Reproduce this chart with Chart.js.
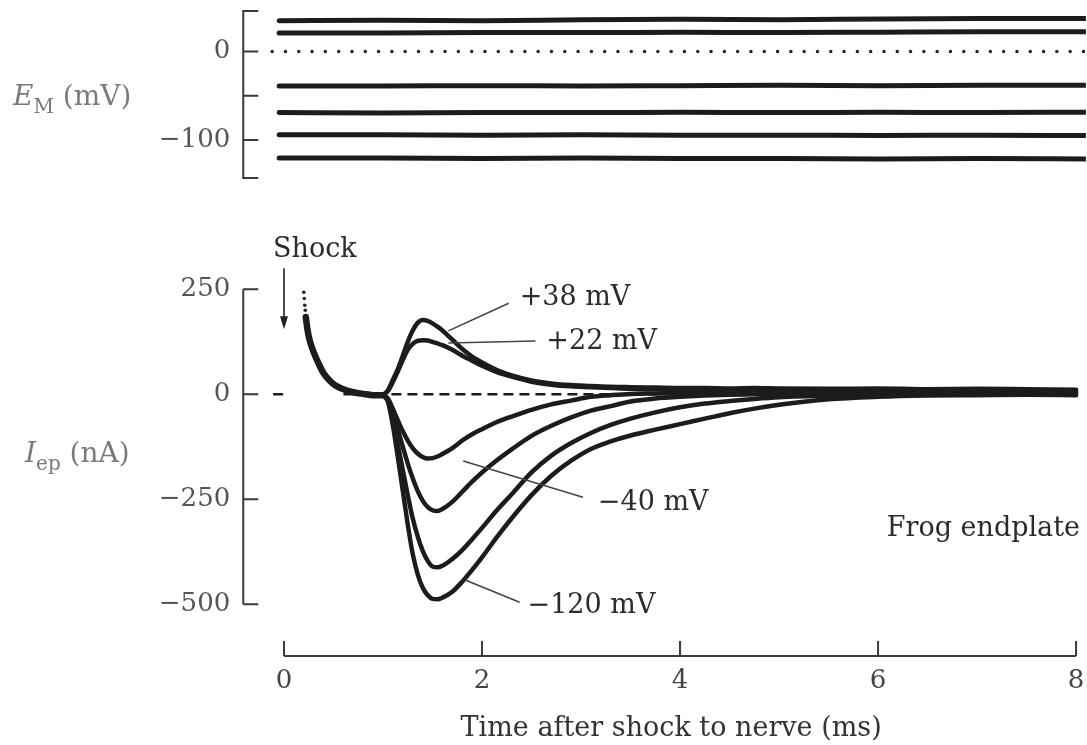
<!DOCTYPE html>
<html>
<head>
<meta charset="utf-8">
<script src="https://cdn.jsdelivr.net/npm/chart.js@4.4.0/dist/chart.umd.min.js"></script>
<style>
  html, body { margin: 0; padding: 0; background: #fff; }
  #wrap { position: relative; width: 1087px; height: 745px; }
  #wrap canvas { position: absolute; left: 0; top: 0; }
</style>
</head>
<body>
<div id="wrap">
  <canvas id="emChart" width="1087" height="745"></canvas>
  <canvas id="iepChart" width="1087" height="745"></canvas>
</div>
<script>
// Panel superior: potencial de membrana (mV) para cada registro
var emTime = [-0.05, 1, 2, 3, 4, 5, 6, 7, 8.07];
var emPlus38 = [35, 35.5, 35, 36, 36.5, 36, 37, 37.5, 37.5];
var emPlus22 = [21, 21, 21.5, 21.5, 22, 21.5, 22, 22.5, 22.5];
var emMinus40 = [-39, -39, -38.5, -39, -38.5, -38, -38.5, -38, -38];
var emMinus70 = [-69, -69.5, -69, -69, -68.5, -69, -68.5, -69, -68.5];
var emMinus95 = [-94, -94, -94.5, -94, -94.5, -94.5, -95, -94.5, -95];
var emMinus120 = [-120.5, -120.5, -121, -120.5, -121, -121, -121.5, -121, -121.5];
var emZeroTime = [-0.12, 8.07];
var emZero = [0, 0];
var emTicks = [0, -100];
var emTickMarks = [0, -50, -100];
var emBracket = [46, -143];

// Panel inferior: corriente de placa (nA)
var shockDotTime = [0.2, 0.205, 0.21, 0.215];
var shockDots = [243, 228, 212, 200];
var artifactTime = [0.22, 0.24, 0.26, 0.3, 0.35, 0.4, 0.46, 0.52, 0.6, 0.7, 0.8, 0.9, 1.0];
var artifact = [184, 150, 128, 100, 73, 50, 33, 21, 12, 5, 1, -2, -2];
var traceTime = [1.0, 1.05, 1.1, 1.15, 1.2, 1.25, 1.3, 1.35, 1.4, 1.45, 1.5, 1.55, 1.6, 1.7, 1.8, 1.9, 2.0, 2.15, 2.3, 2.5, 2.7, 2.9, 3.1, 3.3, 3.5, 3.75, 4.0, 4.25, 4.5, 4.75, 5.0, 5.5, 6.0, 6.5, 7.0, 7.5, 8.0];
var iPlus38 = [-2, 10, 35, 60, 92, 125, 152, 170, 177, 175, 169, 161, 152, 130, 108, 90, 76, 58, 45, 33, 26, 22, 20, 18, 17, 16, 15, 15, 14, 15, 14, 13, 14, 12, 13, 12, 11];
var iPlus22 = [-2, 8, 30, 55, 82, 106, 120, 127, 129, 128, 125, 121, 117, 106, 92, 80, 68, 53, 42, 30, 23, 19, 17, 15, 13, 12, 11, 12, 11, 10, 11, 10, 11, 9, 10, 9, 9];
var iMinus40 = [-2, -10, -35, -62, -88, -110, -128, -141, -149, -153, -152, -148, -142, -128, -110, -95, -83, -66, -53, -37, -24, -15, -6, -2, 1, 2, 3, 4, 3, 5, 4, 5, 6, 5, 6, 5, 6];
var iMinus70 = [-2, -12, -45, -85, -125, -165, -200, -230, -253, -268, -276, -278, -273, -256, -232, -208, -186, -157, -131, -99, -75, -55, -39, -28, -17, -10, -6, -3, -1, 0, 1, 2, 3, 4, 3, 4, 4];
var iMinus95 = [-2, -15, -60, -120, -180, -240, -295, -338, -372, -396, -410, -412, -408, -392, -371, -345, -318, -276, -238, -186, -146, -116, -92, -73, -58, -43, -31, -22, -16, -11, -7, -3, -1, 0, 1, 1, 2];
var iMinus120 = [-2, -18, -75, -150, -230, -310, -380, -428, -460, -478, -487, -488, -484, -470, -446, -418, -388, -340, -295, -240, -194, -158, -130, -112, -98, -84, -71, -58, -45, -34, -25, -12, -6, -3, -2, -1, -2];
var baseTime = [-0.11, 0.04, 0.3, 0.6, 8.0];
var baseZero = [0, 0, null, 0, 0];
var iepTicks = [250, 0, -250, -500];
var timeTicks = [0, 2, 4, 6, 8];

// Etiquetas de los registros (posiciones en unidades de los ejes)
var notas = [
  { texto: '+38 mV', x: 2.38, y: 229, desde: [2.27, 217], hasta: [1.66, 151] },
  { texto: '+22 mV', x: 2.65, y: 125, desde: [2.54, 127], hasta: [1.66, 122] },
  { texto: '\u221240 mV', x: 3.17, y: -259, desde: [3.02, -245], hasta: [1.81, -159] },
  { texto: '\u2212120 mV', x: 2.46, y: -504, desde: [2.38, -495], hasta: [1.83, -442] }
];

Chart.defaults.font.family = '"DejaVu Serif", serif';
var FUENTE = '"DejaVu Serif", serif';

function puntos(xs, ys) {
  return xs.map(function (x, i) { return { x: x, y: ys[i] }; });
}

function traza(xs, ys, ancho) {
  return {
    data: puntos(xs, ys),
    borderColor: '#1c1c1c',
    borderWidth: ancho,
    pointRadius: 0,
    tension: 0.3,
    cubicInterpolationMode: 'monotone',
    borderCapStyle: 'round',
    borderJoinStyle: 'round',
    fill: false
  };
}

function ejeX(visible) {
  return {
    type: 'linear', min: -0.25, max: 8.07,
    display: visible,
    afterBuildTicks: function (scale) { scale.ticks = timeTicks.map(function (v) { return { value: v }; }); },
    afterFit: function (scale) {
      scale.height = visible ? 89 : 0;
      scale.paddingLeft = 0;
      scale.paddingRight = 0;
    },
    grid: { display: false, drawTicks: false },
    border: { display: false },
    ticks: { padding: 10, color: '#444', font: { size: 26 }, maxRotation: 0, autoSkip: false },
    title: { display: visible, text: 'Time after shock to nerve (ms)', color: '#333', font: { size: 27 }, padding: 0 }
  };
}

function ejeY(min, max, marcas) {
  return {
    type: 'linear', min: min, max: max,
    afterBuildTicks: function (scale) { scale.ticks = marcas.map(function (v) { return { value: v }; }); },
    afterFit: function (scale) {
      scale.width = 259.25;
      scale.paddingTop = 0;
      scale.paddingBottom = 0;
    },
    grid: { display: false, drawTicks: false },
    border: { display: false },
    ticks: {
      padding: 29, color: '#555', font: { size: 26 },
      callback: function (v) { return v < 0 ? '\u2212' + Math.abs(v) : String(v); }
    }
  };
}

function linea(ctx, x1, y1, x2, y2) {
  ctx.beginPath();
  ctx.moveTo(x1, y1);
  ctx.lineTo(x2, y2);
  ctx.stroke();
}

function tituloEje(ctx, x, y, letra, sub, resto) {
  ctx.fillStyle = '#7a7a7a';
  ctx.textBaseline = 'alphabetic';
  ctx.textAlign = 'left';
  ctx.font = 'italic 28px ' + FUENTE;
  ctx.fillText(letra, x, y);
  x += ctx.measureText(letra).width;
  ctx.font = '20px ' + FUENTE;
  ctx.fillText(sub, x, y + 8);
  x += ctx.measureText(sub).width;
  ctx.font = '28px ' + FUENTE;
  ctx.fillText(resto, x, y);
}

// Corchete del eje y y titulo del panel superior
var decorEm = {
  id: 'decorEm',
  afterDraw: function (chart) {
    var ctx = chart.ctx, ys = chart.scales.y, area = chart.chartArea;
    var ax = area.left - 16;
    var top = ys.getPixelForValue(emBracket[0]), bot = ys.getPixelForValue(emBracket[1]);
    ctx.save();
    ctx.strokeStyle = '#3a3a3a';
    ctx.lineWidth = 2;
    ctx.beginPath();
    ctx.moveTo(ax + 15, top); ctx.lineTo(ax, top); ctx.lineTo(ax, bot); ctx.lineTo(ax + 15, bot);
    emTickMarks.forEach(function (v) {
      var p = ys.getPixelForValue(v);
      ctx.moveTo(ax, p); ctx.lineTo(ax + 15, p);
    });
    ctx.stroke();
    tituloEje(ctx, 13, 105, 'E', 'M', ' (mV)');
    ctx.restore();
  }
};

// Ejes, flecha del estimulo y etiquetas del panel inferior
var decorIep = {
  id: 'decorIep',
  afterDraw: function (chart) {
    var ctx = chart.ctx, xs = chart.scales.x, ys = chart.scales.y, area = chart.chartArea;
    ctx.save();
    ctx.strokeStyle = '#3a3a3a';
    ctx.lineWidth = 2;
    var ax = area.left - 16;
    ctx.beginPath();
    ctx.moveTo(ax, ys.getPixelForValue(iepTicks[0]));
    ctx.lineTo(ax, ys.getPixelForValue(iepTicks[iepTicks.length - 1]));
    iepTicks.forEach(function (v) {
      var p = ys.getPixelForValue(v);
      ctx.moveTo(ax, p); ctx.lineTo(ax + 15, p);
    });
    ctx.moveTo(xs.getPixelForValue(timeTicks[0]), area.bottom);
    ctx.lineTo(xs.getPixelForValue(timeTicks[timeTicks.length - 1]), area.bottom);
    timeTicks.forEach(function (v) {
      var p = xs.getPixelForValue(v);
      ctx.moveTo(p, area.bottom); ctx.lineTo(p, area.bottom - 15);
    });
    ctx.stroke();

    tituloEje(ctx, 25, 462, 'I', 'ep', ' (nA)');

    // flecha "Shock"
    var sx = xs.getPixelForValue(0), sy1 = ys.getPixelForValue(300), sy2 = ys.getPixelForValue(155);
    ctx.strokeStyle = '#222';
    ctx.fillStyle = '#222';
    ctx.lineWidth = 1.6;
    linea(ctx, sx, sy1, sx, sy2 - 8);
    ctx.beginPath();
    ctx.moveTo(sx, sy2); ctx.lineTo(sx - 4, sy2 - 13); ctx.lineTo(sx + 4, sy2 - 13);
    ctx.closePath();
    ctx.fill();

    ctx.font = '27px ' + FUENTE;
    ctx.fillStyle = '#2b2b2b';
    ctx.textBaseline = 'middle';
    ctx.textAlign = 'left';
    ctx.fillText('Shock', xs.getPixelForValue(-0.11), ys.getPixelForValue(343));

    ctx.strokeStyle = '#444';
    ctx.lineWidth = 1.6;
    notas.forEach(function (n) {
      linea(ctx, xs.getPixelForValue(n.desde[0]), ys.getPixelForValue(n.desde[1]),
        xs.getPixelForValue(n.hasta[0]), ys.getPixelForValue(n.hasta[1]));
      ctx.fillText(n.texto, xs.getPixelForValue(n.x), ys.getPixelForValue(n.y));
    });

    ctx.textAlign = 'right';
    ctx.fillText('Frog endplate', xs.getPixelForValue(8.04), ys.getPixelForValue(-321));
    ctx.restore();
  }
};

var opcionesBase = {
  responsive: false,
  animation: false,
  plugins: { legend: { display: false }, tooltip: { enabled: false } }
};

// Grafico del potencial de membrana
var ceroPunteado = traza(emZeroTime, emZero, 3.5);
ceroPunteado.borderDash = [0, 13.3];
ceroPunteado.borderColor = '#222';
ceroPunteado.tension = 0;

new Chart(document.getElementById('emChart').getContext('2d'), {
  type: 'line',
  data: {
    datasets: [
      traza(emTime, emPlus38, 5),
      traza(emTime, emPlus22, 5),
      traza(emTime, emMinus40, 5),
      traza(emTime, emMinus70, 5),
      traza(emTime, emMinus95, 5),
      traza(emTime, emMinus120, 5),
      ceroPunteado
    ]
  },
  options: Object.assign({}, opcionesBase, {
    layout: { padding: { top: 3, bottom: 560.8, left: 0, right: 1.1 } },
    scales: { x: ejeX(false), y: ejeY(-150, 55, emTicks) }
  }),
  plugins: [decorEm]
});

// Grafico de la corriente de placa
var lineaCero = traza(baseTime, baseZero, 2.6);
lineaCero.borderDash = [10, 6];
lineaCero.borderCapStyle = 'butt';
lineaCero.tension = 0;
lineaCero.spanGaps = false;

var puntosShock = {
  data: puntos(shockDotTime, shockDots),
  showLine: false,
  pointRadius: 1.8,
  pointBackgroundColor: '#222',
  pointBorderWidth: 0
};

new Chart(document.getElementById('iepChart').getContext('2d'), {
  type: 'line',
  data: {
    datasets: [
      traza(traceTime, iPlus38, 4.5),
      traza(traceTime, iPlus22, 4.5),
      traza(traceTime, iMinus40, 4.5),
      traza(traceTime, iMinus70, 4.5),
      traza(traceTime, iMinus95, 4.5),
      traza(traceTime, iMinus120, 4.5),
      traza(artifactTime, artifact, 6.5),
      puntosShock,
      lineaCero
    ]
  },
  options: Object.assign({}, opcionesBase, {
    layout: { padding: { top: 255.7, bottom: 0, left: 0, right: 1.1 } },
    scales: { x: ejeX(true), y: ejeY(-623, 330, iepTicks) }
  }),
  plugins: [decorIep]
});
</script>
</body>
</html>
